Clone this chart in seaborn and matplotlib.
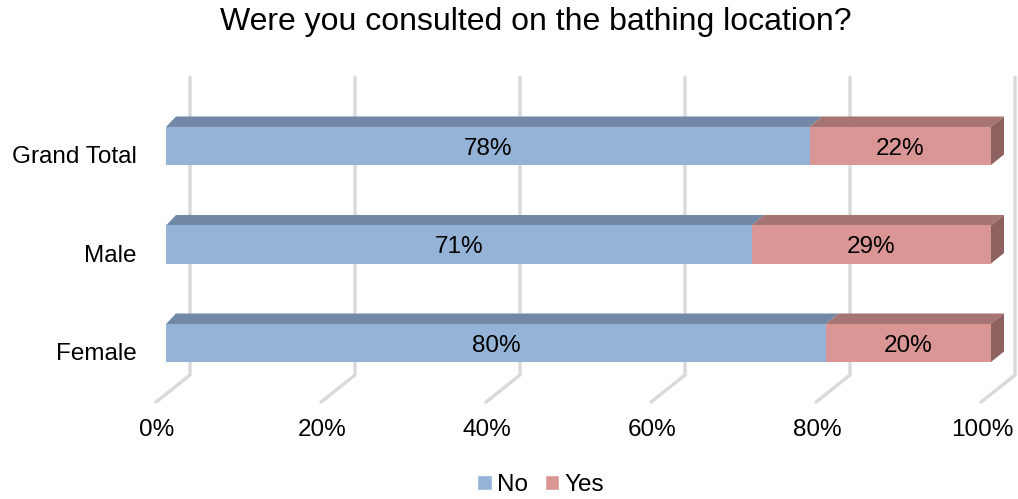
import matplotlib
matplotlib.use("Agg")
import matplotlib.pyplot as plt
from matplotlib.patches import Polygon, Patch
import matplotlib.transforms as mtransforms
import seaborn as sns
import pandas as pd

# Survey results: share of respondents (percent)
groups = ["Grand Total", "Male", "Female"]
no_pct = [78, 71, 80]
yes_pct = [22, 29, 20]
tick_values = [0, 20, 40, 60, 80, 100]
tick_labels = ["0%", "20%", "40%", "60%", "80%", "100%"]
title = "Were you consulted on the bathing location?"

# Colours (front face, top face, side face)
no_front, no_top = "#95B3D7", "#7189A6"
yes_front, yes_top, yes_side = "#D99694", "#A67472", "#8D615F"
grid_color = "#D9D9D9"

sns.set_theme(style="white")
plt.rcParams["font.family"] = ["Liberation Sans", "DejaVu Sans"]
plt.rcParams["text.color"] = "black"

FS = 17.5

df = pd.DataFrame({"group": groups, "No": no_pct, "Yes": yes_pct})
df["total"] = df["No"] + df["Yes"]

W, H, DPI = 1018, 499, 100
fig = plt.figure(figsize=(W / DPI, H / DPI), dpi=DPI)
ax_left, ax_right = 166, 991
ax_top, ax_bottom = 72.1, 402.1
ax = fig.add_axes([ax_left / W, 1 - ax_bottom / H,
                   (ax_right - ax_left) / W, (ax_bottom - ax_top) / H])

bar_w = 0.386
sns.barplot(data=df, x="total", y="group", color=yes_front, width=bar_w,
            saturation=1, orient="h", ax=ax, zorder=3, linewidth=0)
sns.barplot(data=df, x="No", y="group", color=no_front, width=bar_w,
            saturation=1, orient="h", ax=ax, zorder=4, linewidth=0)

ax.set_xlim(0, 100)
ax.set_ylim(2.6, -0.75)
for s in ax.spines.values():
    s.set_visible(False)
ax.set_xlabel("")
ax.set_ylabel("")

# pixel -> data unit conversion
ux = 100 / (ax_right - ax_left)
uy = 3.35 / (ax_bottom - ax_top)

def depth_dx(x):
    return (10 + 3 * x / 100) * ux

dy = 10.5 * uy

# back-wall gridlines with floor diagonals
y_wall_top = -0.70
y_wall_bot = 2.325
for v in tick_values:
    xb = v + 24 * ux
    xf = v - 10 * ux
    ax.plot([xb, xb, xf], [y_wall_top, y_wall_bot, 2.60], color=grid_color,
            lw=2.4, clip_on=False, zorder=1, solid_joinstyle="miter")

# 3D top and side faces of the stacked bars
label_shift = mtransforms.ScaledTranslation(0, -3 / DPI, fig.dpi_scale_trans)
for i, (n, y_) in enumerate(zip(df["No"], df["Yes"])):
    top = i - bar_w / 2
    bot = i + bar_w / 2
    segs = [(0, n, no_top), (n, n + y_, yes_top)]
    for x0, x1, c in segs:
        poly = Polygon([(x0, top), (x1, top), (x1 + depth_dx(x1), top - dy),
                        (x0 + depth_dx(x0), top - dy)], closed=True,
                       facecolor=c, edgecolor="none", zorder=2.5, clip_on=False)
        ax.add_patch(poly)
    xe = n + y_
    side = Polygon([(xe, top), (xe, bot), (xe + depth_dx(xe), bot - dy),
                    (xe + depth_dx(xe), top - dy)], closed=True,
                   facecolor=yes_side, edgecolor="none", zorder=2.5, clip_on=False)
    ax.add_patch(side)
    # value labels centred on each segment
    ax.text(n / 2, i, f"{n}%", ha="center", va="center", fontsize=FS,
            color="black", zorder=6, transform=ax.transData + label_shift)
    ax.text(n + y_ / 2, i, f"{y_}%", ha="center", va="center", fontsize=FS,
            color="black", zorder=6, transform=ax.transData + label_shift)

# x ticks sit on the front edge of the floor
ax.set_xticks(tick_values)
ax.set_xticklabels(tick_labels, fontsize=FS, color="black")
ax.tick_params(axis="x", length=0, pad=12)
shift_x = mtransforms.ScaledTranslation(-9 / DPI, 0, fig.dpi_scale_trans)
for lbl in ax.get_xticklabels():
    lbl.set_transform(lbl.get_transform() + shift_x)

ax.tick_params(axis="y", length=0, pad=21, labelsize=FS, labelcolor="black")
shift_y = mtransforms.ScaledTranslation(0, -9 / DPI, fig.dpi_scale_trans)
for lbl in ax.get_yticklabels():
    lbl.set_transform(lbl.get_transform() + shift_y)

fig.text(0.5265, 1 - 22 / H, title, ha="center", va="center", fontsize=23,
         color="black")

handles = [Patch(facecolor=no_front, label="No"),
           Patch(facecolor=yes_front, label="Yes")]
fig.legend(handles=handles, loc="center", bbox_to_anchor=(0.531, 1 - 485 / H),
           ncol=2, frameon=False, fontsize=FS, handlelength=0.6,
           handleheight=0.6, handletextpad=0.2, columnspacing=0.7,
           labelcolor="black")

fig.savefig("out.png", dpi=DPI)
